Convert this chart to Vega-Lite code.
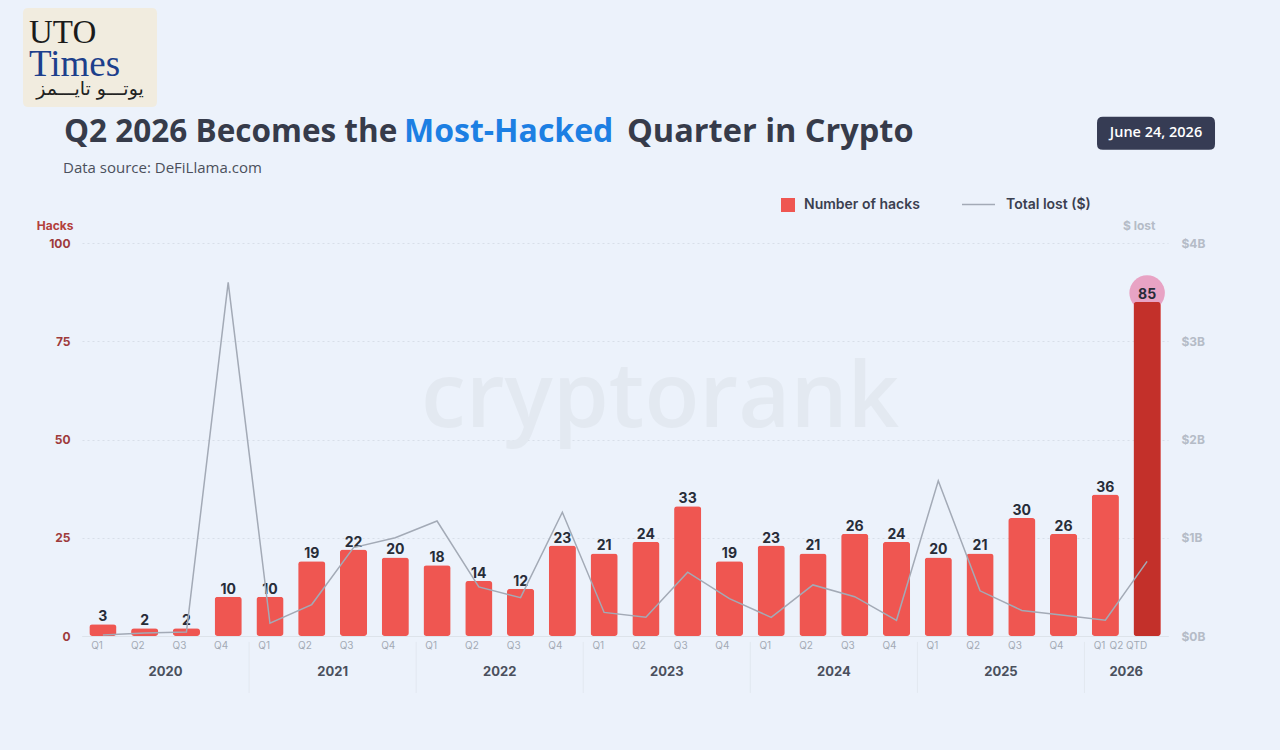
{
  "$schema": "https://vega.github.io/schema/vega-lite/v6.json",
  "width": 1086,
  "height": 393,
  "autosize": {"type": "none"},
  "padding": {"left": 82, "top": 243, "right": 112, "bottom": 114},
  "background": "#ecf2fb",
  "config": {
    "view": {"stroke": null},
    "axis": {"labelFont": "Inter", "titleFont": "Inter"},
    "legend": {"labelFont": "Inter"}
  },
  "datasets": {
    "one": [{}]
  },
  "data": {
    "values": [
      {"period": "2020 Q1", "year": "2020", "quarter": "Q1", "hacks": 3, "lost": 0.01},
      {"period": "2020 Q2", "year": "2020", "quarter": "Q2", "hacks": 2, "lost": 0.03},
      {"period": "2020 Q3", "year": "2020", "quarter": "Q3", "hacks": 2, "lost": 0.04},
      {"period": "2020 Q4", "year": "2020", "quarter": "Q4", "hacks": 10, "lost": 3.6},
      {"period": "2021 Q1", "year": "2021", "quarter": "Q1", "hacks": 10, "lost": 0.13},
      {"period": "2021 Q2", "year": "2021", "quarter": "Q2", "hacks": 19, "lost": 0.32},
      {"period": "2021 Q3", "year": "2021", "quarter": "Q3", "hacks": 22, "lost": 0.9},
      {"period": "2021 Q4", "year": "2021", "quarter": "Q4", "hacks": 20, "lost": 1.0},
      {"period": "2022 Q1", "year": "2022", "quarter": "Q1", "hacks": 18, "lost": 1.17},
      {"period": "2022 Q2", "year": "2022", "quarter": "Q2", "hacks": 14, "lost": 0.5},
      {"period": "2022 Q3", "year": "2022", "quarter": "Q3", "hacks": 12, "lost": 0.39},
      {"period": "2022 Q4", "year": "2022", "quarter": "Q4", "hacks": 23, "lost": 1.26},
      {"period": "2023 Q1", "year": "2023", "quarter": "Q1", "hacks": 21, "lost": 0.24},
      {"period": "2023 Q2", "year": "2023", "quarter": "Q2", "hacks": 24, "lost": 0.19},
      {"period": "2023 Q3", "year": "2023", "quarter": "Q3", "hacks": 33, "lost": 0.65},
      {"period": "2023 Q4", "year": "2023", "quarter": "Q4", "hacks": 19, "lost": 0.38},
      {"period": "2024 Q1", "year": "2024", "quarter": "Q1", "hacks": 23, "lost": 0.19},
      {"period": "2024 Q2", "year": "2024", "quarter": "Q2", "hacks": 21, "lost": 0.52},
      {"period": "2024 Q3", "year": "2024", "quarter": "Q3", "hacks": 26, "lost": 0.4},
      {"period": "2024 Q4", "year": "2024", "quarter": "Q4", "hacks": 24, "lost": 0.16},
      {"period": "2025 Q1", "year": "2025", "quarter": "Q1", "hacks": 20, "lost": 1.58},
      {"period": "2025 Q2", "year": "2025", "quarter": "Q2", "hacks": 21, "lost": 0.46},
      {"period": "2025 Q3", "year": "2025", "quarter": "Q3", "hacks": 30, "lost": 0.26},
      {"period": "2025 Q4", "year": "2025", "quarter": "Q4", "hacks": 26, "lost": 0.21},
      {"period": "2026 Q1", "year": "2026", "quarter": "Q1", "hacks": 36, "lost": 0.16},
      {"period": "2026 Q2 QTD", "year": "2026", "quarter": "Q2 QTD", "hacks": 85, "lost": 0.76}
    ]
  },
  "layer": [
    {
      "layer": [
        {
          "data": {"name": "one"},
          "mark": {"type": "text", "text": "cryptorank", "font": "Open Sans", "fontSize": 90, "fontWeight": 600, "color": "#e3e9f1", "align": "center", "baseline": "alphabetic"},
          "encoding": {
            "x": {"datum": "2023 Q2", "type": "nominal", "bandPosition": 0.84},
            "y": {"datum": 53.2, "type": "quantitative", "scale": {"domain": [0, 100], "nice": false}}
          }
        },
        {
          "data": {"name": "one"},
          "mark": {"type": "point", "filled": true, "shape": "M-0.92,-0.739L0.92,-0.739Q1,-0.739 1,-0.66L1,0.66Q1,0.739 0.92,0.739L-0.92,0.739Q-1,0.739 -1,0.66L-1,-0.66Q-1,-0.739 -0.92,-0.739Z", "size": 17956, "color": "#f1ecdf", "opacity": 1, "strokeWidth": 0, "xOffset": 8},
          "encoding": {
            "x": {"datum": "2020 Q1", "type": "nominal", "bandPosition": 0},
            "y": {"datum": 147.2, "type": "quantitative", "scale": {"domain": [0, 100], "nice": false}}
          }
        },
        {
          "data": {"name": "one"},
          "mark": {"type": "text", "text": "UTO", "font": "Liberation Serif", "fontSize": 33, "fontWeight": 400, "color": "#1b1b1b", "align": "left", "baseline": "alphabetic", "dx": -53},
          "encoding": {
            "x": {"datum": "2020 Q1", "type": "nominal", "bandPosition": 0},
            "y": {"datum": 150.8, "type": "quantitative", "scale": {"domain": [0, 100], "nice": false}}
          }
        },
        {
          "data": {"name": "one"},
          "mark": {"type": "text", "text": "Times", "font": "Liberation Serif", "fontSize": 37, "fontWeight": 400, "color": "#1d3f8c", "align": "left", "baseline": "alphabetic", "dx": -53},
          "encoding": {
            "x": {"datum": "2020 Q1", "type": "nominal", "bandPosition": 0},
            "y": {"datum": 142.6, "type": "quantitative", "scale": {"domain": [0, 100], "nice": false}}
          }
        },
        {
          "data": {"name": "one"},
          "mark": {"type": "text", "text": "يوتـــو تايـــمز", "font": "DejaVu Sans", "fontSize": 19, "fontWeight": 400, "color": "#222222", "align": "center", "baseline": "alphabetic", "dx": 8},
          "encoding": {
            "x": {"datum": "2020 Q1", "type": "nominal", "bandPosition": 0},
            "y": {"datum": 137.7, "type": "quantitative", "scale": {"domain": [0, 100], "nice": false}}
          }
        },
        {
          "data": {"name": "one"},
          "mark": {"type": "text", "text": "Q2 2026 Becomes the", "font": "Open Sans", "fontSize": 31.5, "fontWeight": "bold", "color": "#363b4a", "align": "left", "baseline": "alphabetic", "dx": -18},
          "encoding": {
            "x": {"datum": "2020 Q1", "type": "nominal", "bandPosition": 0},
            "y": {"datum": 125.7, "type": "quantitative", "scale": {"domain": [0, 100], "nice": false}}
          }
        },
        {
          "data": {"name": "one"},
          "mark": {"type": "text", "text": "Most-Hacked", "font": "Open Sans", "fontSize": 32, "fontWeight": "bold", "color": "#1c7fe3", "align": "left", "baseline": "alphabetic"},
          "encoding": {
            "x": {"datum": "2021 Q4", "type": "nominal", "bandPosition": 0.709},
            "y": {"datum": 125.7, "type": "quantitative", "scale": {"domain": [0, 100], "nice": false}}
          }
        },
        {
          "data": {"name": "one"},
          "mark": {"type": "text", "text": "Quarter in Crypto", "font": "Open Sans", "fontSize": 32.5, "fontWeight": "bold", "color": "#363b4a", "align": "left", "baseline": "alphabetic"},
          "encoding": {
            "x": {"datum": "2023 Q2", "type": "nominal", "bandPosition": 0.048},
            "y": {"datum": 125.7, "type": "quantitative", "scale": {"domain": [0, 100], "nice": false}}
          }
        },
        {
          "data": {"name": "one"},
          "mark": {"type": "text", "text": "Data source: DeFiLlama.com", "font": "Open Sans", "fontSize": 15, "fontWeight": 400, "color": "#4b505c", "align": "left", "baseline": "alphabetic", "dx": -19},
          "encoding": {
            "x": {"datum": "2020 Q1", "type": "nominal", "bandPosition": 0},
            "y": {"datum": 117.8, "type": "quantitative", "scale": {"domain": [0, 100], "nice": false}}
          }
        },
        {
          "data": {"name": "one"},
          "mark": {"type": "point", "filled": true, "shape": "M-0.9,-0.28L0.9,-0.28Q1,-0.28 1,-0.18L1,0.18Q1,0.28 0.9,0.28L-0.9,0.28Q-1,0.28 -1,0.18L-1,-0.18Q-1,-0.28 -0.9,-0.28Z", "size": 13924, "color": "#363c54", "opacity": 1, "strokeWidth": 0},
          "encoding": {
            "x": {"datum": "2026 Q2 QTD", "type": "nominal", "bandPosition": 0.713},
            "y": {"datum": 127.9, "type": "quantitative", "scale": {"domain": [0, 100], "nice": false}}
          }
        },
        {
          "data": {"name": "one"},
          "mark": {"type": "text", "text": "June 24, 2026", "font": "Open Sans", "fontSize": 14.5, "fontWeight": 600, "color": "#ffffff", "align": "center", "baseline": "middle"},
          "encoding": {
            "x": {"datum": "2026 Q2 QTD", "type": "nominal", "bandPosition": 0.713},
            "y": {"datum": 127.9, "type": "quantitative", "scale": {"domain": [0, 100], "nice": false}}
          }
        },
        {
          "transform": [{"filter": "datum.quarter == 'Q1' && datum.year != '2020'"}],
          "mark": {"type": "rule", "color": "#e2e8f0", "strokeWidth": 1},
          "encoding": {
            "x": {"field": "period", "type": "nominal", "bandPosition": 0},
            "y": {"datum": -1.5, "type": "quantitative", "scale": {"domain": [0, 100], "nice": false}},
            "y2": {"datum": -14.5}
          }
        },
        {
          "transform": [
            {"joinaggregate": [{"op": "count", "as": "n"}], "groupby": ["year"]},
            {"window": [{"op": "row_number", "as": "rn"}], "groupby": ["year"], "sort": [{"field": "period", "order": "ascending"}]},
            {"filter": "datum.rn == datum.n / 2 + 1"}
          ],
          "mark": {"type": "text", "font": "Inter", "fontSize": 13, "fontWeight": "bold", "color": "#4a505d", "align": "center", "baseline": "middle"},
          "encoding": {
            "x": {"field": "period", "type": "nominal", "bandPosition": 0},
            "y": {"datum": -9.2, "type": "quantitative", "scale": {"domain": [0, 100], "nice": false}},
            "text": {"field": "year", "type": "nominal"}
          }
        },
        {
          "mark": {"type": "bar", "cornerRadius": 3, "width": {"band": 0.65}},
          "encoding": {
            "x": {
              "field": "period", "type": "nominal",
              "scale": {"paddingInner": 0, "paddingOuter": 0},
              "axis": {"title": null, "labelExpr": "substring(datum.value, 5)", "labelAngle": 0, "labelColor": "#a3aab5", "labelFontSize": 10, "labelPadding": 9, "ticks": false, "domain": true, "domainColor": "#dde3ea", "domainWidth": 1, "grid": false}
            },
            "y": {
              "field": "hacks", "type": "quantitative",
              "scale": {"domain": [0, 100], "nice": false},
              "axis": {"values": [0, 25, 50, 75, 100], "title": "Hacks", "titleAngle": 0, "titleAlign": "right", "titleBaseline": "middle", "titleX": -9, "titleY": -18, "titleFontSize": 12, "titleFontWeight": "bold", "titleColor": "#b3403b", "labelColor": "#9e3b3b", "labelFontWeight": "bold", "labelFontSize": 12, "labelPadding": 12, "ticks": false, "domain": false, "grid": true, "gridColor": "#d8dfe8", "gridDash": [2, 3], "gridWidth": 1}
            },
            "fill": {
              "datum": "Number of hacks", "type": "nominal",
              "scale": {"range": ["#ef5651"]},
              "legend": {"title": null, "orient": "none", "legendX": 699, "legendY": -45, "symbolType": "square", "symbolSize": 196, "symbolStrokeWidth": 0, "labelFontSize": 14, "labelFontWeight": 600, "labelColor": "#3b4050", "labelOffset": 9}
            }
          }
        },
        {
          "transform": [{"filter": "datum.quarter == 'Q2 QTD'"}],
          "mark": {"type": "circle", "size": 1260, "color": "#e8a3c4", "opacity": 1, "yOffset": -9},
          "encoding": {
            "x": {"field": "period", "type": "nominal"},
            "y": {"field": "hacks", "type": "quantitative", "scale": {"domain": [0, 100], "nice": false}}
          }
        },
        {
          "transform": [{"filter": "datum.quarter == 'Q2 QTD'"}],
          "mark": {"type": "bar", "cornerRadius": 3, "width": {"band": 0.65}, "color": "#c3302a"},
          "encoding": {
            "x": {"field": "period", "type": "nominal"},
            "y": {"field": "hacks", "type": "quantitative", "scale": {"domain": [0, 100], "nice": false}}
          }
        },
        {
          "mark": {"type": "text", "font": "Inter", "fontSize": 14, "fontWeight": "bold", "color": "#272c38", "baseline": "alphabetic", "dy": -3},
          "encoding": {
            "x": {"field": "period", "type": "nominal"},
            "y": {"field": "hacks", "type": "quantitative", "scale": {"domain": [0, 100], "nice": false}},
            "text": {"field": "hacks", "type": "quantitative"}
          }
        }
      ]
    },
    {
      "mark": {"type": "line", "strokeWidth": 1.5},
      "encoding": {
        "x": {"field": "period", "type": "nominal"},
        "y": {
          "field": "lost", "type": "quantitative",
          "scale": {"domain": [0, 4], "nice": false},
          "axis": {"orient": "right", "values": [0, 1, 2, 3, 4], "labelExpr": "'$' + datum.value + 'B'", "title": "$ lost", "titleAngle": 0, "titleAlign": "right", "titleBaseline": "middle", "titleX": -13, "titleY": -18, "titleColor": "#b5bcc7", "titleFontWeight": "bold", "titleFontSize": 12, "labelColor": "#b5bcc7", "labelFontWeight": "bold", "labelFontSize": 12, "labelPadding": 13, "ticks": false, "domain": false, "grid": false}
        },
        "stroke": {
          "datum": "Total lost ($)", "type": "nominal",
          "scale": {"range": ["#a3aab6"]},
          "legend": {"title": null, "orient": "none", "legendX": 879, "legendY": -56, "symbolType": "stroke", "symbolSize": 1089, "symbolStrokeWidth": 1.5, "labelFontSize": 14, "labelFontWeight": 600, "labelColor": "#3b4050", "labelOffset": 10}
        }
      }
    }
  ],
  "resolve": {"scale": {"y": "independent"}}
}
